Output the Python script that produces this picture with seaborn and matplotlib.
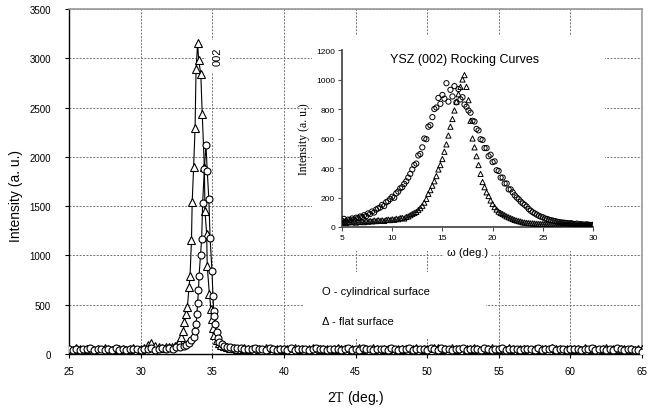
import matplotlib.pyplot as plt
import numpy as np
import seaborn as sns
from matplotlib.patches import Rectangle

sns.set_theme(style="white")
plt.rcParams['font.family'] = ['Liberation Sans', 'DejaVu Sans']
plt.rcParams['mathtext.fontset'] = 'custom'
plt.rcParams['mathtext.rm'] = 'Liberation Serif'

# ---- main 2-theta scan ----
# baseline scan grid (0.25 deg steps) left and right of the 002 peak
left_grid = np.arange(25.0, 31.76, 0.25)
right_grid = np.arange(36.25, 65.01, 0.25)

cyl_left = [48, 42, 55, 39, 51, 46, 58, 41, 47, 53, 44, 50, 38, 56,
            45, 49, 43, 52, 47, 55, 41, 50, 46, 58, 44, 52, 60, 49]
flat_left = [52, 44, 58, 47, 40, 55, 49, 45, 53, 42, 57, 48, 44, 51,
             46, 54, 41, 49, 56, 45, 52, 60, 95, 112, 80, 70, 62, 66]

cyl_peak_x = [32.0, 32.25, 32.5, 32.75, 33.0, 33.2, 33.4, 33.55, 33.7, 33.8,
              33.87, 33.93, 33.98, 34.04, 34.08, 34.18, 34.26, 34.33, 34.45, 34.56,
              34.65, 34.76, 34.85, 34.98, 35.05, 35.1, 35.13, 35.2, 35.3, 35.4,
              35.5, 35.65, 35.8, 36.0]
cyl_peak_y = [58, 54, 66, 72, 80, 95, 115, 140, 175, 230,
              304, 410, 517, 650, 795, 1000, 1167, 1532, 1880, 2120,
              1860, 1575, 1177, 845, 592, 440, 389, 300, 220, 160,
              125, 98, 82, 70]

flat_peak_x = [32.0, 32.2, 32.4, 32.55, 32.7, 32.85, 32.98, 33.05, 33.17, 33.26,
               33.38, 33.45, 33.55, 33.6, 33.7, 33.8, 33.87, 33.98, 34.05, 34.2,
               34.3, 34.45, 34.49, 34.61, 34.65, 34.8, 34.91, 34.96, 35.05, 35.15,
               35.3, 35.45, 35.6, 35.8, 36.0]
flat_peak_y = [66, 72, 80, 96, 125, 170, 236, 322, 406, 474,
               677, 795, 1157, 1545, 1900, 2290, 2891, 3152, 2983, 2841,
               2435, 1894, 1454, 1217, 890, 609, 456, 355, 260, 190,
               140, 110, 92, 80, 70]

cyl_right = [66, 60, 57, 62, 52, 55, 49, 58,
             47, 53, 44, 56, 50, 42, 54, 48,
             45, 57, 41, 52, 49, 55, 43, 50,
             58, 46, 51, 40, 54, 47, 53, 44,
             49, 56, 42, 51, 45, 58, 48, 52,
             41, 55, 47, 50, 44, 57, 49, 43,
             53, 46, 59, 42, 50, 48, 55, 45,
             62, 51, 44, 56, 47, 53, 40, 50,
             46, 58, 43, 52, 48, 55, 45, 61,
             49, 42, 54, 47, 57, 44, 51, 46,
             55, 41, 50, 48, 53, 45, 58, 43,
             51, 47, 56, 42, 49, 54, 44, 52,
             46, 55, 40, 50, 47, 57, 43, 49,
             53, 45, 51, 42, 56, 48, 44, 50,
             47, 40, 36, 25]
flat_right = [62, 58, 55, 50, 56, 47, 53, 45,
              51, 44, 57, 48, 42, 55, 46, 52,
              49, 43, 56, 47, 53, 41, 50, 58,
              44, 52, 48, 55, 42, 50, 57, 46,
              53, 45, 49, 41, 56, 47, 51, 44,
              57, 48, 43, 52, 46, 55, 41, 50,
              47, 54, 44, 51, 58, 45, 49, 53,
              42, 56, 64, 48, 52, 45, 57, 49,
              55, 43, 50, 46, 59, 48, 44, 52,
              47, 56, 41, 53, 49, 45, 58, 50,
              44, 51, 47, 55, 42, 50, 46, 54,
              48, 43, 57, 46, 52, 40, 55, 49,
              53, 47, 44, 58, 45, 51, 48, 42,
              50, 56, 43, 49, 54, 46, 52, 45,
              48, 44, 50, 46]

cyl_x = np.concatenate([left_grid, cyl_peak_x, right_grid])
cyl_y = np.concatenate([cyl_left, cyl_peak_y, cyl_right])
flat_x = np.concatenate([left_grid, flat_peak_x, right_grid])
flat_y = np.concatenate([flat_left, flat_peak_y, flat_right])

# ---- inset: YSZ (002) rocking curves, omega 5..30 in 0.2 deg steps ----
omega = np.arange(5.0, 30.01, 0.2)
rock_cyl = [42, 55, 38, 50, 47, 58, 52, 63, 60, 71,
            68, 80, 74, 92, 88, 105, 98, 118, 126, 132,
            150, 142, 168, 175, 190, 205, 198, 228, 240, 262,
            270, 292, 310, 335, 360, 390, 420, 430, 485, 495,
            540, 600, 595, 680, 690, 745, 800, 810, 875, 835,
            895, 870, 975, 850, 930, 885, 955, 845, 935, 865,
            880, 830, 815, 790, 775, 720, 715, 665, 655, 595,
            590, 535, 535, 480, 490, 440, 445, 385, 380, 335,
            335, 295, 295, 255, 255, 235, 215, 200, 188, 172,
            160, 150, 138, 122, 110, 100, 92, 84, 76, 70,
            66, 58, 55, 50, 46, 43, 40, 36, 34, 31,
            30, 28, 27, 24, 26, 22, 20, 23, 18, 19,
            17, 16, 18, 15, 14, 15]
rock_flat = [30, 36, 28, 33, 35, 32, 38, 30, 36, 34,
             37, 33, 40, 36, 41, 38, 44, 40, 46, 42,
             45, 41, 48, 50, 47, 52, 49, 56, 53, 60,
             62, 58, 68, 72, 80, 88, 95, 102, 115, 128,
             144, 165, 190, 225, 250, 280, 310, 345, 390, 420,
             461, 510, 560, 620, 680, 732, 790, 850, 900, 950,
             1000, 1030, 950, 860, 720, 600, 540, 480, 420, 360,
             305, 270, 235, 210, 180, 156, 135, 118, 104, 95,
             88, 80, 72, 66, 60, 54, 48, 44, 40, 37,
             32, 30, 28, 27, 25, 25, 23, 22, 21, 20,
             20, 19, 18, 17, 17, 16, 15, 15, 14, 14,
             13, 13, 12, 12, 12, 12, 11, 11, 11, 10,
             10, 10, 11, 10, 9, 10]

W, H = 661, 410
fig = plt.figure(figsize=(6.61, 4.10), dpi=100)
ax = fig.add_axes([69 / W, 1 - 355 / H, 573 / W, 345 / H])

sns.lineplot(x=flat_x, y=flat_y, ax=ax, color='black', lw=0.8, marker='^',
             markersize=5.2, markerfacecolor='white', markeredgecolor='black',
             markeredgewidth=0.8, estimator=None, sort=False, zorder=3)
sns.lineplot(x=cyl_x, y=cyl_y, ax=ax, color='black', lw=0.8, marker='o',
             markersize=5, markerfacecolor='white', markeredgecolor='black',
             markeredgewidth=0.8, estimator=None, sort=False, zorder=4)

ax.set_xlim(25, 65)
ax.set_ylim(0, 3500)
ax.set_xticks(np.arange(25, 66, 5))
ax.set_yticks(np.arange(0, 3501, 500))
ax.grid(True, ls=(0, (2, 1.5)), color='0.45', lw=0.7)
for s in ['left', 'bottom']:
    ax.spines[s].set_color('black')
    ax.spines[s].set_linewidth(1.0)
for s in ['top', 'right']:
    ax.spines[s].set_color('0.6')
    ax.spines[s].set_linewidth(1.2)
ax.tick_params(axis='both', direction='out', length=3, width=0.8, labelsize=7,
               color='black', labelcolor='black', left=True, bottom=True)
ax.tick_params(axis='y', pad=10)
ax.tick_params(axis='x', pad=6)
ax.set_ylabel('Intensity (a. u.)', fontsize=10, color='black')
ax.yaxis.set_label_coords(-0.08, 0.46)
ax.set_xlabel('2$\\mathrm{T}$ (deg.)', fontsize=10, color='black')
ax.xaxis.set_label_coords(0.5, -0.1)

# white panels that hide the grid behind the inset and labels
ax.add_patch(Rectangle((312 / W, 1 - 252 / H), 293 / W, 215 / H,
                       transform=fig.transFigure, facecolor='white',
                       edgecolor='none', zorder=1.5, clip_on=False))
ax.add_patch(Rectangle((303 / W, 1 - 340 / H), 183 / W, 67 / H,
                       transform=fig.transFigure, facecolor='white',
                       edgecolor='none', zorder=1.5, clip_on=False))
ax.text(218 / W, 1 - 57 / H, '002', transform=fig.transFigure, rotation=90,
        ha='center', va='center', fontsize=8, color='black', zorder=5,
        bbox=dict(facecolor='white', edgecolor='none', pad=5))
fig.text(322 / W, 1 - 292 / H, 'O - cylindrical surface', fontsize=8,
         ha='left', va='center', color='black')
fig.text(322 / W, 1 - 322 / H, '\u0394 - flat surface', fontsize=8,
         ha='left', va='center', color='black')

# ---- inset ----
axi = fig.add_axes([342 / W, 1 - 228 / H, 251 / W, 177 / H])
axi.patch.set_alpha(0)
sns.scatterplot(x=omega, y=rock_cyl, ax=axi, marker='o', s=14,
                facecolor='none', edgecolor='black', linewidth=0.7, zorder=3)
sns.scatterplot(x=omega, y=rock_flat, ax=axi, marker='^', s=14,
                facecolor='none', edgecolor='black', linewidth=0.7, zorder=3)
axi.set_xlim(5, 30)
axi.set_ylim(0, 1200)
axi.set_xticks(np.arange(5, 31, 5))
axi.set_yticks(np.arange(0, 1201, 200))
axi.spines['top'].set_visible(False)
axi.spines['right'].set_visible(False)
for s in ['left', 'bottom']:
    axi.spines[s].set_color('0.3')
    axi.spines[s].set_linewidth(1.3)
axi.tick_params(axis='both', direction='out', length=3, width=0.8, labelsize=6,
                color='0.3', labelcolor='black', left=True, bottom=True, pad=2)
axi.set_ylabel('Intensity (a. u.)', fontsize=8.5, family='Liberation Serif',
               color='black')
axi.set_xlabel('\u03c9 (deg.)', fontsize=8, color='black', labelpad=4,
               bbox=dict(facecolor='white', edgecolor='none', pad=2))
axi.text(0.49, 0.95, 'YSZ (002) Rocking Curves', transform=axi.transAxes,
         ha='center', va='center', fontsize=9, color='black')

fig.savefig('out.png', dpi=100)
